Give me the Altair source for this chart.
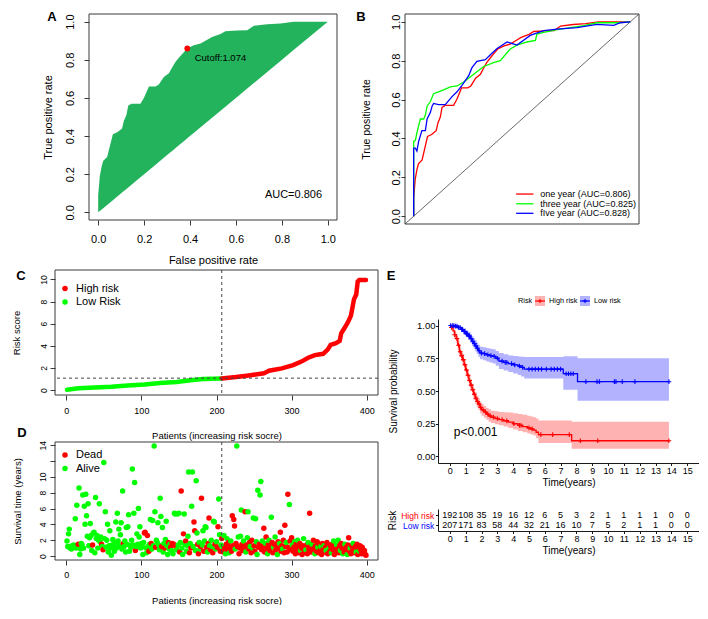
import altair as alt
import pandas as pd

FONT = "Liberation Sans"
BLACK = "#000000"
BOXC = "#3a3a3a"
RED = "#FF0000"
GREEN = "#00FF00"
BLUE = "#0000FF"
A_FILL = "#22B35C"
PLUS = "M-1,0L1,0M0,-1L0,1"

# ---------------- A / B : ROC curves ----------------
ROC1_FPR = [0, 0, 0.007, 0.015, 0.022, 0.039, 0.064, 0.083, 0.104, 0.112, 0.123, 0.131, 0.145, 0.184, 0.199,
            0.221, 0.25, 0.264, 0.286, 0.308, 0.322, 0.337, 0.358, 0.373, 0.388, 0.417, 0.446, 0.467, 0.496,
            0.533, 0.554, 0.605, 0.649, 0.678, 0.736, 0.794, 0.852, 1.0]
ROC1_TPR = [0, 0.09, 0.19, 0.24, 0.27, 0.29, 0.41, 0.42, 0.44, 0.48, 0.51, 0.56, 0.57, 0.57, 0.60,
            0.66, 0.66, 0.67, 0.71, 0.73, 0.76, 0.79, 0.82, 0.84, 0.86, 0.876, 0.885, 0.90, 0.92,
            0.935, 0.95, 0.953, 0.955, 0.978, 0.986, 0.99, 1.0, 1.0]
ROC3_FPR = [0, 0, 0.008, 0.015, 0.031, 0.046, 0.054, 0.062, 0.077, 0.092, 0.115, 0.138, 0.169, 0.2, 0.231,
            0.277, 0.323, 0.369, 0.4, 0.415, 0.446, 0.477, 0.523, 0.562, 0.569, 0.6, 0.662, 0.723, 0.785,
            0.846, 0.938, 1.0]
ROC3_TPR = [0, 0.385, 0.39, 0.43, 0.50, 0.50, 0.52, 0.566, 0.59, 0.63, 0.64, 0.65, 0.665, 0.67, 0.69,
            0.73, 0.77, 0.79, 0.80, 0.82, 0.86, 0.88, 0.896, 0.904, 0.937, 0.946, 0.96, 0.97, 0.98,
            0.995, 0.995, 1.0]
ROC5_FPR = [0, 0, 0.008, 0.015, 0.023, 0.038, 0.054, 0.062, 0.077, 0.085, 0.092, 0.115, 0.146, 0.177, 0.2,
            0.223, 0.254, 0.269, 0.292, 0.331, 0.354, 0.385, 0.431, 0.477, 0.538, 0.6, 0.662, 0.754, 0.846,
            0.923, 0.954, 1.0]
ROC5_TPR = [0, 0.35, 0.35, 0.335, 0.385, 0.44, 0.44, 0.50, 0.533, 0.566, 0.58, 0.574, 0.574, 0.615, 0.64,
            0.673, 0.723, 0.764, 0.797, 0.805, 0.83, 0.863, 0.896, 0.88, 0.93, 0.954, 0.962, 0.97, 0.987,
            0.982, 0.995, 1.0]
CUT_FPR, CUT_TPR = 0.388, 0.859
ROC_LABELS = ["one year (AUC=0.806)", "three year (AUC=0.825)", "fIve year (AUC=0.828)"]
TICKS01 = [0, 0.2, 0.4, 0.6, 0.8, 1.0]

# ---------------- C : risk score ----------------
C_PAT = [1, 16, 38, 60, 82, 104, 125, 147, 165, 182, 207, 226, 243, 263, 268, 270, 287, 302, 313, 322,
         331, 342, 348, 352, 359, 364, 366, 370, 375, 379, 383, 386, 388, 390, 399]
C_RISK = [0.03, 0.15, 0.23, 0.29, 0.41, 0.5, 0.64, 0.73, 0.88, 0.99, 1.05, 1.17, 1.32, 1.52, 1.67, 1.75,
          1.96, 2.25, 2.57, 2.92, 3.16, 3.27, 3.65, 4.09, 4.24, 4.44, 5.12, 5.56, 6.14, 6.73, 8.19, 8.63,
          9.8, 9.94, 9.94]
CUT_N = 207
CUT_RISK = 1.074

# ---------------- D : survival time per patient ----------------
D_TIME = [
    1.9, 1.2, 2.8, 3.4, 1.0, 1.2, 0.9, 1.3, 1.1, 1.4, 1.2, 4.7, 1.0, 6.4, 1.3, 1.5, 8.6, 0.2, 0.9, 1.6,
    1.4, 7.7, 1.0, 6.3, 4.0, 7.8, 5.1, 2.5, 6.6, 1.3, 2.3, 4.1, 2.6, 0.7, 1.4, 2.9, 3.0, 0.4, 7.4, 2.2,
    2.6, 1.0, 2.0, 6.6, 1.8, 2.4, 1.5, 1.2, 0.8, 11.8, 2.2, 5.6, 1.1, 2.0, 4.0, 0.5, 1.3, 3.2, 1.0, 0.1,
    1.4, 2.1, 1.2, 0.6, 1.6, 4.3, 1.0, 5.4, 1.9, 3.4, 1.3, 2.7, 4.2, 0.9, 8.2, 1.6, 1.2, 1.9, 0.5, 3.6,
    1.5, 3.7, 5.2, 0.6, 1.3, 1.1, 2.0, 11.0, 1.4, 5.4, 9.3, 0.7, 1.2, 2.8, 1.5, 6.0, 2.4, 3.7, 1.0, 1.6,
    1.3, 0.2, 1.7, 2.9, 3.0, 1.0, 0.4, 2.6, 1.2, 0.6, 1.5, 4.6, 1.6, 0.9, 4.5, 1.3, 13.9, 5.6, 1.1, 2.0,
    1.7, 4.2, 1.4, 0.8, 7.3, 5.0, 1.2, 3.6, 0.5, 1.6, 1.0, 2.1, 4.4, 1.3, 0.2, 1.7, 0.9, 1.5, 1.1, 0.7,
    1.6, 0.3, 1.5, 5.4, 5.3, 1.2, 0.8, 5.3, 1.4, 5.4, 0.5, 1.7, 8.2, 1.0, 0.2, 2.8, 5.3, 1.5, 1.9, 0.6,
    1.3, 2.5, 10.6, 0.4, 1.6, 1.0, 6.3, 10.6, 1.2, 4.3, 3.2, 0.7, 9.5, 2.9, 1.5, 0.3, 1.7, 0.9, 1.2, 7.3,
    1.4, 3.2, 0.6, 1.9, 3.7, 3.6, 1.1, 0.5, 1.6, 4.8, 1.3, 0.8, 2.0, 1.2, 0.4, 4.4, 4.3, 1.5, 0.9, 1.8,
    1.1, 3.7, 7.2, 2.7, 0.6, 1.4, 2.2, 1.2, 0.5, 2.6, 1.0, 0.3, 1.5, 2.2, 0.8, 1.7, 0.4, 1.1, 1.9, 0.6,
    5.1, 1.3, 4.6, 3.8, 0.9, 1.6, 13.9, 1.2, 2.4, 0.3, 1.0, 2.5, 5.8, 1.5, 0.7, 1.9, 1.1, 5.6, 0.5, 1.4,
    2.3, 5.6, 0.9, 1.7, 1.2, 0.4, 2.0, 1.0, 4.8, 1.3, 0.6, 4.7, 1.8, 0.2, 8.3, 1.1, 1.5, 7.7, 9.4, 0.8,
    1.9, 1.2, 3.5, 0.5, 1.6, 2.4, 1.0, 0.3, 1.4, 2.0, 0.7, 1.2, 4.9, 1.7, 0.4, 1.1, 1.5, 2.4, 0.8, 1.3,
    0.2, 1.8, 1.0, 1.6, 3.0, 0.6, 1.3, 0.9, 2.0, 0.4, 3.9, 1.2, 1.7, 0.5, 7.8, 1.1, 6.5, 1.9, 0.8, 2.3,
    1.4, 0.6, 1.1, 1.8, 0.3, 1.5, 0.9, 2.0, 1.2, 0.4, 1.6, 0.7, 1.0, 0.2, 1.3, 2.2, 0.5, 1.1, 0.8, 1.4,
    0.3, 1.7, 0.9, 5.4, 1.2, 0.5, 1.5, 0.7, 2.0, 1.0, 0.3, 1.3, 0.6, 1.8, 1.1, 0.4, 1.5, 0.8, 1.2, 0.2,
    1.6, 0.9, 1.3, 0.5, 1.1, 0.7, 1.7, 0.3, 1.4, 1.0, 0.6, 1.2, 0.4, 1.5, 0.8, 1.9, 0.2, 1.1, 0.6, 1.4,
    0.9, 2.0, 0.4, 1.3, 0.7, 1.6, 1.0, 0.3, 1.2, 0.5, 1.5, 0.8, 1.1, 0.2, 1.4, 2.3, 0.6, 1.0, 0.3, 1.3,
    0.7, 1.6, 0.9, 0.4, 1.2, 0.5, 1.5, 0.2, 1.0, 0.6, 1.3, 0.8, 0.3, 1.1, 0.6, 0.4, 0.7, 0.2, 0.1,
]
D_DEAD = [
    0, 0, 0, 0, 0, 0, 0, 0, 0, 0, 0, 0, 0, 0, 0, 1, 0, 0, 0, 0,
    0, 0, 0, 0, 0, 0, 0, 0, 0, 0, 0, 0, 0, 0, 1, 0, 0, 0, 0, 0,
    0, 0, 0, 0, 0, 0, 1, 0, 1, 0, 0, 0, 0, 0, 0, 0, 0, 0, 0, 0,
    0, 0, 0, 0, 0, 0, 0, 0, 0, 0, 0, 0, 0, 0, 0, 1, 0, 0, 0, 0,
    0, 0, 0, 0, 0, 0, 0, 0, 0, 0, 0, 1, 0, 0, 0, 0, 0, 0, 0, 0,
    0, 0, 0, 1, 1, 0, 0, 1, 0, 1, 0, 0, 1, 0, 0, 0, 0, 0, 1, 0,
    0, 0, 0, 0, 0, 0, 1, 0, 0, 0, 1, 0, 0, 0, 0, 1, 0, 0, 1, 0,
    1, 0, 1, 0, 0, 1, 0, 0, 0, 0, 1, 0, 1, 0, 0, 1, 0, 0, 1, 0,
    0, 0, 0, 1, 0, 1, 0, 0, 0, 1, 1, 0, 0, 0, 1, 1, 0, 0, 1, 1,
    0, 0, 1, 0, 0, 0, 1, 0, 1, 1, 0, 1, 0, 0, 1, 0, 0, 1, 0, 0,
    1, 1, 0, 0, 1, 0, 1, 0, 1, 0, 1, 0, 1, 0, 1, 1, 0, 1, 0, 1,
    1, 1, 1, 1, 0, 1, 0, 1, 0, 1, 1, 0, 0, 1, 1, 0, 1, 1, 0, 1,
    0, 0, 1, 1, 0, 1, 1, 0, 0, 1, 1, 0, 0, 0, 0, 1, 1, 0, 0, 1,
    0, 1, 1, 1, 0, 1, 1, 0, 1, 0, 1, 1, 0, 1, 1, 0, 1, 0, 1, 1,
    0, 1, 1, 0, 1, 1, 1, 0, 1, 1, 1, 1, 0, 1, 1, 1, 0, 1, 1, 1,
    0, 1, 1, 0, 1, 1, 1, 0, 1, 1, 1, 0, 1, 1, 1, 0, 1, 1, 0, 1,
    1, 0, 1, 1, 1, 1, 0, 1, 1, 1, 0, 1, 1, 1, 0, 1, 1, 1, 0, 1,
    1, 1, 0, 1, 1, 0, 1, 1, 1, 0, 1, 1, 0, 1, 1, 0, 1, 1, 1, 0,
    1, 0, 1, 1, 0, 1, 1, 0, 1, 1, 0, 1, 1, 0, 1, 1, 1, 0, 1, 1,
    1, 0, 1, 1, 1, 0, 1, 1, 1, 0, 1, 1, 1, 1, 1, 1, 1, 1, 1,
]

# ---------------- E : Kaplan-Meier ----------------
HIGH_T = [0, 0.1, 0.2, 0.3, 0.4, 0.5, 0.6, 0.7, 0.8, 0.9, 1.0, 1.1, 1.2, 1.3, 1.4, 1.5, 1.6, 1.7, 1.8, 1.9,
          2.0, 2.15, 2.3, 2.45, 2.6, 2.85, 3.1, 3.4, 3.7, 4.0, 4.3, 4.6, 4.9, 5.1, 5.3, 5.45, 5.6, 7.7, 13.85]
HIGH_S = [1.0, 0.985, 0.96, 0.93, 0.90, 0.85, 0.80, 0.77, 0.74, 0.70, 0.66, 0.62, 0.58, 0.545, 0.51, 0.475,
          0.445, 0.42, 0.40, 0.375, 0.356, 0.34, 0.324, 0.31, 0.30, 0.29, 0.282, 0.272, 0.262, 0.25, 0.238,
          0.228, 0.218, 0.21, 0.201, 0.185, 0.167, 0.12, 0.12]
HIGH_LO = [1.0, 0.965, 0.935, 0.90, 0.865, 0.815, 0.76, 0.73, 0.695, 0.655, 0.615, 0.575, 0.535, 0.50, 0.465,
           0.43, 0.40, 0.375, 0.355, 0.33, 0.31, 0.295, 0.28, 0.266, 0.256, 0.246, 0.238, 0.228, 0.218, 0.205,
           0.195, 0.185, 0.176, 0.168, 0.16, 0.14, 0.103, 0.059, 0.059]
HIGH_HI = [1.0, 1.0, 0.985, 0.96, 0.935, 0.885, 0.84, 0.81, 0.785, 0.745, 0.705, 0.665, 0.625, 0.59, 0.555,
           0.52, 0.49, 0.465, 0.445, 0.42, 0.40, 0.385, 0.37, 0.36, 0.35, 0.345, 0.34, 0.338, 0.336, 0.33,
           0.325, 0.318, 0.31, 0.305, 0.30, 0.29, 0.275, 0.265, 0.265]
LOW_T = [0, 0.3, 0.5, 0.7, 0.85, 1.0, 1.15, 1.3, 1.4, 1.5, 1.6, 1.7, 1.8, 1.9, 2.1, 2.3, 2.5, 2.7, 2.9, 3.1,
         3.4, 3.7, 4.0, 4.3, 4.5, 4.7, 7.17, 8.07, 13.85]
LOW_S = [1.0, 0.995, 0.985, 0.97, 0.955, 0.937, 0.92, 0.90, 0.88, 0.863, 0.845, 0.826, 0.808, 0.79, 0.785,
         0.777, 0.77, 0.765, 0.75, 0.728, 0.718, 0.709, 0.70, 0.691, 0.68, 0.667, 0.632, 0.571, 0.571]
LOW_LO = [1.0, 0.985, 0.97, 0.95, 0.93, 0.91, 0.89, 0.865, 0.843, 0.823, 0.803, 0.782, 0.762, 0.742, 0.735,
          0.726, 0.718, 0.71, 0.693, 0.668, 0.656, 0.645, 0.634, 0.623, 0.61, 0.595, 0.51, 0.426, 0.426]
LOW_HI = [1.0, 1.0, 1.0, 0.99, 0.98, 0.965, 0.952, 0.935, 0.918, 0.903, 0.887, 0.87, 0.853, 0.838, 0.834,
          0.828, 0.822, 0.818, 0.805, 0.79, 0.78, 0.772, 0.768, 0.764, 0.762, 0.76, 0.765, 0.75, 0.75]
HIGH_CENSOR = [0.1, 0.3, 0.45, 0.55, 0.65, 0.75, 0.85, 0.95, 1.05, 1.15, 1.25, 1.35, 1.45, 1.55, 1.65, 1.75,
               1.85, 1.95, 2.1, 2.25, 2.4, 2.55, 2.75, 3.0, 3.3, 3.6, 4.05, 4.4, 4.5, 5.0, 5.2, 5.75, 6.5,
               7.55, 8.25, 9.35, 13.85]
LOW_CENSOR = [0.05, 0.15, 0.25, 0.35, 0.45, 0.55, 0.65, 0.75, 0.8, 0.9, 0.95, 1.05, 1.1, 1.2, 1.25, 1.35,
              1.45, 1.55, 1.65, 1.75, 1.85, 2.0, 2.2, 2.4, 2.6, 2.8, 3.0, 3.3, 3.5, 3.6, 3.9, 4.1, 4.4, 4.6,
              5.0, 5.2, 5.4, 5.6, 5.8, 6.1, 6.4, 6.6, 6.8, 7.0, 7.35, 7.5, 7.65, 7.8, 8.6, 9.3, 9.45, 10.4,
              10.5, 10.9, 11.7, 13.85]
P_TEXT = "p<0.001"

# ---------------- E : number at risk ----------------
RISK_TIMES = list(range(16))
HIGH_N = [192, 108, 35, 19, 16, 12, 6, 5, 3, 2, 1, 1, 1, 1, 0, 0]
LOW_N = [207, 171, 83, 58, 44, 32, 21, 16, 10, 7, 5, 2, 1, 1, 0, 0]
GROUPS = ["High risk", "Low risk"]

ONE = pd.DataFrame({"k": [0]})


def txt(s, x, y, size, weight="normal", align="center", color=BLACK):
    return alt.Chart(ONE).mark_text(text=s, fontSize=size, font=FONT, fontWeight=weight, align=align,
                                    baseline="middle", color=color).encode(x=alt.value(x), y=alt.value(y))


def anchor(x, y):
    return alt.Chart(ONE).mark_point(opacity=0, size=1).encode(x=alt.value(x), y=alt.value(y))


def dot(x, y, color, size=30):
    return alt.Chart(ONE).mark_circle(size=size, color=color, opacity=1).encode(x=alt.value(x), y=alt.value(y))


def frame(w, h):
    return alt.Chart(ONE).mark_rect(filled=False, stroke=BOXC, strokeWidth=1).encode(
        x=alt.value(0), x2=alt.value(w), y=alt.value(0), y2=alt.value(h))


def r_axis(title, values, fmt, fs, tfs, tick, lpad, tpad, vertical=False, **kw):
    d = dict(title=title, values=values, format=fmt, grid=False, domain=False, ticks=True, tickSize=tick,
             tickColor=BOXC, tickWidth=1, labelPadding=lpad, titlePadding=tpad, labelFontSize=fs,
             titleFontSize=tfs, labelFont=FONT, titleFont=FONT, titleFontWeight="normal", labelColor=BLACK,
             titleColor=BLACK, labelFlush=False, labelOverlap=False)
    if vertical:
        d.update(labelAngle=270, labelAlign="center", labelBaseline="bottom")
    d.update(kw)
    return alt.Axis(**d)


NOBOX = alt.ViewBackground(strokeOpacity=0, strokeWidth=0, fill="white")


def spacer(w, h):
    return alt.Chart(ONE).mark_point(opacity=0, size=1).encode(
        x=alt.value(0), y=alt.value(0)).properties(width=w, height=h, view=NOBOX)


# ================= Panel A =================
sA = alt.Scale(domain=[-0.04, 1.04], nice=False, zero=False)
xA = alt.X("fpr:Q", scale=sA, axis=r_axis("False positive rate", TICKS01, ".1f", 11, 11, 5, 8, 10))
yA = alt.Y("tpr:Q", scale=sA, axis=r_axis("True positive rate", TICKS01, ".1f", 11, 11, 5, 8.5, 11, vertical=True))
dfA = pd.DataFrame({"fpr": ROC1_FPR, "tpr": ROC1_TPR})
dfA["diag"] = dfA["fpr"]
areaA = alt.Chart(dfA).mark_area(color=A_FILL, opacity=1, interpolate="linear").encode(x=xA, y=yA, y2="diag:Q")
cutA = alt.Chart(pd.DataFrame({"fpr": [CUT_FPR], "tpr": [CUT_TPR]})).mark_circle(
    color=RED, size=34, opacity=1).encode(x=xA, y=yA)
cutTxt = alt.Chart(pd.DataFrame({"fpr": [0.42], "tpr": [0.81], "lab": ["Cutoff:1.074"]})).mark_text(
    align="left", baseline="middle", fontSize=9.5, font=FONT, color=BLACK).encode(x=xA, y=yA, text="lab:N")
aucTxt = alt.Chart(pd.DataFrame({"fpr": [0.975], "tpr": [0.093], "lab": ["AUC=0.806"]})).mark_text(
    align="right", baseline="middle", fontSize=11, font=FONT, color=BLACK).encode(x=xA, y=yA, text="lab:N")
panelA = alt.layer(areaA, cutA, cutTxt, aucTxt, frame(248, 206), txt("A", -37, 3, 13, "bold"),
                   anchor(-50, 0)).properties(width=248, height=206, view=NOBOX)

# ================= Panel B =================
xB = alt.X("fpr:Q", scale=sA, axis=r_axis("False positive rate", TICKS01, ".1f", 11, 10.5, 5, 4.7, 10.5))
yB = alt.Y("tpr:Q", scale=sA, axis=r_axis("True positive rate", TICKS01, ".1f", 11, 10.5, 4, 0, 19, vertical=True))
diagB = alt.Chart(pd.DataFrame({"fpr": [-0.04], "tpr": [-0.04], "fpr2": [1.04], "tpr2": [1.04]})).mark_rule(
    color="#444444", strokeWidth=0.8).encode(x=xB, y=yB, x2="fpr2:Q", y2="tpr2:Q")


def roc_line(fpr, tpr, color):
    df = pd.DataFrame({"fpr": fpr, "tpr": tpr, "idx": list(range(len(fpr)))})
    return alt.Chart(df).mark_line(color=color, strokeWidth=1.3, interpolate="linear").encode(
        x=xB, y=yB, order="idx:Q")


legB = pd.DataFrame({"fpr": [0.473] * 3, "fpr2": [0.553] * 3, "tpr": [0.114, 0.064, 0.015],
                     "col": [RED, GREEN, BLUE], "tx": [0.584] * 3, "lab": ROC_LABELS})
legBr = alt.Chart(legB).mark_rule(strokeWidth=1.3).encode(x=xB, x2="fpr2:Q", y=yB, color=alt.Color("col:N", scale=None))
legBt = alt.Chart(legB).mark_text(align="left", baseline="middle", fontSize=9, font=FONT, color=BLACK).encode(
    x=alt.X("tx:Q", scale=sA, axis=None), y=yB, text="lab:N")
panelB = alt.layer(diagB, roc_line(ROC1_FPR, ROC1_TPR, RED), roc_line(ROC3_FPR, ROC3_TPR, GREEN),
                   roc_line(ROC5_FPR, ROC5_TPR, BLUE), legBr, legBt, frame(234, 210), txt("B", -44, 3, 13, "bold"),
                   anchor(-66, 0), anchor(0, 252)).properties(width=234, height=210, view=NOBOX)

# ================= Panel C =================
sPat = alt.Scale(domain=[-15, 415], nice=False, zero=False)
xC = alt.X("pat:Q", scale=sPat, axis=r_axis("Patients (increasing risk socre)", [0, 100, 200, 300, 400], "d",
                                            9, 9.5, 5, 6, 15))
yC = alt.Y("risk:Q", scale=alt.Scale(domain=[-0.45, 10.85], nice=False, zero=False),
           axis=r_axis("Risk score", [0, 2, 4, 6, 8, 10], "d", 8.5, 9.5, 5, 1.3, 18, vertical=True))
dfC = pd.DataFrame({"pat": C_PAT, "risk": C_RISK})
lowC = alt.Chart(dfC[dfC["pat"] <= CUT_N]).mark_line(color=GREEN, strokeWidth=4.5, strokeCap="round").encode(x=xC, y=yC)
highC = alt.Chart(dfC[dfC["pat"] >= CUT_N]).mark_line(color=RED, strokeWidth=4.5, strokeCap="round").encode(x=xC, y=yC)
vC = alt.Chart(pd.DataFrame({"pat": [CUT_N]})).mark_rule(color="#444444", strokeDash=[3, 3], strokeWidth=1).encode(x=xC)
hC = alt.Chart(pd.DataFrame({"risk": [CUT_RISK]})).mark_rule(color="#444444", strokeDash=[3, 3], strokeWidth=1).encode(y=yC)
panelC = alt.layer(lowC, highC, vC, hC, frame(323, 125),
                   dot(10, 18.5, RED), txt("High risk", 21, 18.5, 11, align="left"),
                   dot(10, 32, GREEN), txt("Low Risk", 21, 32, 11, align="left"),
                   txt("C", -34, 6, 13, "bold"), anchor(-44, -2)).properties(width=323, height=125, view=NOBOX)

# ================= Panel D =================
xD = alt.X("pat:Q", scale=sPat, axis=r_axis("Patients (increasing risk socre)", [0, 100, 200, 300, 400], "d",
                                            9, 9.5, 5, 5, 16))
yD = alt.Y("time:Q", scale=alt.Scale(domain=[-0.5, 14.4], nice=False, zero=False),
           axis=r_axis("Survival time (years)", [0, 2, 4, 6, 8, 10, 12, 14], "d", 8.5, 9.5, 5, 3, 16,
                       vertical=True, labelExpr="datum.value == 12 ? '' : datum.label"))
dfD = pd.DataFrame({"pat": list(range(1, len(D_TIME) + 1)), "time": D_TIME,
                    "col": [RED if d else GREEN for d in D_DEAD]})
ptsD = alt.Chart(dfD).mark_circle(size=30, opacity=1).encode(x=xD, y=yD, color=alt.Color("col:N", scale=None))
vD = alt.Chart(pd.DataFrame({"pat": [CUT_N]})).mark_rule(color="#444444", strokeDash=[3, 3], strokeWidth=1).encode(x=xD)
panelD = alt.layer(ptsD, vD, frame(323, 118),
                   dot(10, 13, RED), txt("Dead", 21, 13, 11, align="left"),
                   dot(10, 26.5, GREEN), txt("Alive", 21, 26.5, 11, align="left"),
                   txt("D", -33, -9, 13, "bold"), anchor(-44, 0)).properties(width=323, height=118, view=NOBOX)

# ================= Panel E (KM) =================
sT = alt.Scale(domain=[-0.75, 15.75], nice=False, zero=False)


def gg_axis(title, values, fmt, fs, tfs, lpad, tpad, **kw):
    d = dict(title=title, grid=False, domain=True, domainColor=BLACK,
             domainWidth=0.9, ticks=True, tickSize=2.5, tickColor=BLACK, tickWidth=0.9, labelPadding=lpad,
             titlePadding=tpad, labelFontSize=fs, titleFontSize=tfs, labelFont=FONT, titleFont=FONT,
             titleFontWeight="normal", labelColor=BLACK, titleColor=BLACK, labelFlush=False,
             labelOverlap=False)
    if values is not None:
        d["values"] = values
    if fmt is not None:
        d["format"] = fmt
    d.update(kw)
    return alt.Axis(**d)


xE = alt.X("t:Q", scale=sT, axis=gg_axis("Time(years)", RISK_TIMES, "d", 9, 10, 0.5, 2))
yE = alt.Y("s:Q", scale=alt.Scale(domain=[-0.05, 1.05], nice=False, zero=False),
           axis=gg_axis("Survival probability", [0, 0.25, 0.5, 0.75, 1.0], ".2f", 9.5, 10, 0.5, 18))


def km_layers(ts, ss, lo, hi, cens, color):
    band = alt.Chart(pd.DataFrame({"t": ts, "s": lo, "s2": hi})).mark_area(
        interpolate="step-after", color=color, opacity=0.3).encode(x=xE, y=yE, y2="s2:Q")
    line = alt.Chart(pd.DataFrame({"t": ts, "s": ss})).mark_line(
        interpolate="step-after", color=color, strokeWidth=1.3).encode(x=xE, y=yE)
    cs = []
    for c in cens:
        v = ss[0]
        for ti, si in zip(ts, ss):
            if ti <= c:
                v = si
        cs.append(v)
    cen = alt.Chart(pd.DataFrame({"t": cens, "s": cs})).mark_point(
        shape=PLUS, size=22, filled=False, strokeWidth=1.1, color=color, opacity=1).encode(x=xE, y=yE)
    return band, line, cen


hb, hl, hc = km_layers(HIGH_T, HIGH_S, HIGH_LO, HIGH_HI, HIGH_CENSOR, RED)
lb, ll, lc = km_layers(LOW_T, LOW_S, LOW_LO, LOW_HI, LOW_CENSOR, BLUE)
pTxt = alt.Chart(pd.DataFrame({"t": [0.25], "s": [0.19], "lab": [P_TEXT]})).mark_text(
    align="left", baseline="middle", fontSize=12, font=FONT, color=BLACK).encode(x=xE, y=yE, text="lab:N")
panelE = alt.layer(hb, lb, hl, ll, hc, lc, pTxt).properties(width=261, height=144, view=NOBOX)

# ================= Legend strip above E =================
LEG_Y = 31


def leg_key(x0, color):
    rect = alt.Chart(ONE).mark_rect(color=color, opacity=0.3).encode(
        x=alt.value(x0), x2=alt.value(x0 + 10), y=alt.value(LEG_Y - 5), y2=alt.value(LEG_Y + 5))
    rl = alt.Chart(ONE).mark_rule(color=color, strokeWidth=1.2).encode(
        x=alt.value(x0), x2=alt.value(x0 + 10), y=alt.value(LEG_Y))
    pl = alt.Chart(ONE).mark_point(shape=PLUS, size=18, filled=False, strokeWidth=1, color=color,
                                   opacity=1).encode(x=alt.value(x0 + 5), y=alt.value(LEG_Y))
    return [rect, rl, pl]


panelL = alt.layer(txt("Risk", 80, LEG_Y, 7.3, align="left"),
                   *leg_key(97, RED), txt("High risk", 111, LEG_Y, 7.3, align="left"),
                   *leg_key(142, BLUE), txt("Low risk", 156, LEG_Y, 7.3, align="left"),
                   txt("E", -47, 6, 13, "bold"), anchor(-58, 0)).properties(width=261, height=3, view=NOBOX)

# ================= Risk table =================
dfT = pd.DataFrame({"t": RISK_TIMES * 2, "grp": [GROUPS[0]] * 16 + [GROUPS[1]] * 16, "n": HIGH_N + LOW_N})
xT = alt.X("t:Q", scale=sT, axis=gg_axis("Time(years)", RISK_TIMES, "d", 9, 10, 0.5, 2))
yT = alt.Y("grp:N", scale=alt.Scale(type="point", padding=0.6, domain=GROUPS),
           axis=gg_axis("Risk", None, None, 8.5, 10, 1.8, 3,
                        labelColor={"condition": {"test": "datum.value == 'High risk'", "value": RED},
                                    "value": BLUE}))
tabT = alt.Chart(dfT).mark_text(fontSize=9, font=FONT, color=BLACK, baseline="middle").encode(
    x=xT, y=yT, text="n:Q")
panelT = alt.layer(tabT).properties(width=261, height=22, view=NOBOX)

# ================= Layout =================
top = alt.hconcat(spacer(29, 1), panelA, panelB, spacing=0)
col1 = alt.vconcat(panelC, panelD, spacing=47, bounds="flush")
col2 = alt.vconcat(panelL, panelE, panelT, spacing=46, bounds="flush")
bottom = alt.hconcat(spacer(1, 1), col1, col2, spacing=0)
chart = alt.vconcat(top, bottom, spacing=0).properties(
    padding={"top": 3, "left": 0, "right": 0, "bottom": 0}).configure_view(strokeWidth=0).configure(font=FONT)

chart.save("out.html", embed_options={"renderer": "svg", "actions": False})
